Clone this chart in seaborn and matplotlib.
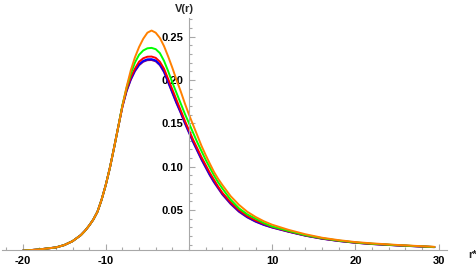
import matplotlib
matplotlib.use('Agg')
import matplotlib.pyplot as plt
import seaborn as sns
from matplotlib.ticker import MultipleLocator, FixedLocator

sns.set_style('white')
plt.rcParams['font.family'] = ['Liberation Sans', 'DejaVu Sans']

# tortoise coordinate r*
r_star = [-20, -18, -16, -15, -14, -13, -12.5, -12, -11.5, -11, -10.5, -10,
          -9.5, -9, -8.5, -8, -7.5, -7, -6.5, -6, -5.5, -5, -4.5, -4, -3.5,
          -3, -2.5, -2, -1.5, -1, -0.5, 0, 0.5, 1, 1.5, 2, 2.5, 3, 3.5, 4,
          5, 6, 7, 8, 9, 10, 12, 14, 16, 18, 20, 22, 25, 27, 29.5]

# left flank (r* = -20 ... -8.5), the same for all curves
v_left = [0.003, 0.0045, 0.0068, 0.0095, 0.014, 0.021, 0.026, 0.032, 0.039,
          0.048, 0.062, 0.079, 0.099, 0.122, 0.146]

# r* = -8 ... 29.5
v_purple = [0.169, 0.187, 0.200, 0.210, 0.217, 0.221, 0.2228, 0.223, 0.2215,
            0.217, 0.209, 0.197, 0.185, 0.173, 0.162, 0.150, 0.139, 0.128,
            0.118, 0.108, 0.099, 0.090, 0.082, 0.075, 0.068,
            0.057, 0.048, 0.0415, 0.0365, 0.0327, 0.0297,
            0.0248, 0.0203, 0.0168, 0.0142, 0.0122, 0.0107, 0.0091, 0.0082, 0.0071]
v_blue = [0.170, 0.188, 0.201, 0.211, 0.218, 0.222, 0.2238, 0.224, 0.2225,
          0.218, 0.210, 0.198, 0.186, 0.174, 0.163, 0.151, 0.140, 0.129,
          0.119, 0.109, 0.100, 0.091, 0.083, 0.076, 0.069,
          0.058, 0.049, 0.042, 0.037, 0.033, 0.030,
          0.025, 0.0205, 0.017, 0.0143, 0.0123, 0.0108, 0.0092, 0.0083, 0.0072]
v_red = [0.170, 0.189, 0.203, 0.213, 0.221, 0.225, 0.2268, 0.227, 0.2255,
         0.221, 0.213, 0.201, 0.189, 0.177, 0.165, 0.153, 0.142, 0.131,
         0.121, 0.111, 0.102, 0.093, 0.085, 0.077, 0.070,
         0.059, 0.050, 0.043, 0.038, 0.034, 0.0305,
         0.0253, 0.0207, 0.0172, 0.0145, 0.0124, 0.0109, 0.0093, 0.0084, 0.0073]
v_green = [0.171, 0.191, 0.207, 0.220, 0.229, 0.234, 0.2365, 0.237, 0.2355,
           0.231, 0.222, 0.210, 0.197, 0.185, 0.173, 0.161, 0.150, 0.139,
           0.128, 0.118, 0.108, 0.099, 0.090, 0.082, 0.075,
           0.062, 0.052, 0.045, 0.040, 0.035, 0.031,
           0.0258, 0.021, 0.0175, 0.0147, 0.0126, 0.0111, 0.0094, 0.0085, 0.0073]
v_orange = [0.170, 0.192, 0.211, 0.226, 0.238, 0.2475, 0.2545, 0.257, 0.2545,
            0.2485, 0.239, 0.227, 0.214, 0.200, 0.187, 0.173, 0.160, 0.148,
            0.136, 0.124, 0.1135, 0.1035, 0.094, 0.086, 0.079,
            0.066, 0.056, 0.048, 0.042, 0.037, 0.033,
            0.027, 0.022, 0.018, 0.0152, 0.013, 0.0115, 0.0097, 0.0087, 0.0075]

series = [(v_purple, (0.5, 0, 0.5)), (v_blue, (0, 0, 1)), (v_red, (1, 0, 0)),
          (v_green, (0, 1, 0)), (v_orange, (1, 0.5, 0))]

W, H = 476, 269
fig = plt.figure(figsize=(W / 100, H / 100), dpi=100)
# axes box in pixels: x from 1.8 to 446.9, y from 18.4 to 250.3
ax = fig.add_axes([1.8 / W, (H - 250.3) / H, (446.9 - 1.8) / W, (250.3 - 18.4) / H])

for vals, col in series:
    sns.lineplot(x=r_star, y=v_left + vals, color=col, lw=1.4, ax=ax, sort=False)

ax.set_xlim(-22.5, 31)
ax.set_ylim(0.0035, 0.271)

axis_col = '#a8a8a8'
ax.spines['top'].set_visible(False)
ax.spines['right'].set_visible(False)
ax.spines['left'].set_position(('data', 0))
for s in ('left', 'bottom'):
    ax.spines[s].set_color(axis_col)
    ax.spines[s].set_linewidth(0.8)

ax.xaxis.set_major_locator(FixedLocator([-20, -10, 10, 20, 30]))
ax.xaxis.set_minor_locator(MultipleLocator(2))
ax.yaxis.set_major_locator(FixedLocator([0.05, 0.10, 0.15, 0.20, 0.25]))
ax.yaxis.set_minor_locator(MultipleLocator(0.01))
ax.set_yticklabels(['0.05', '0.10', '0.15', '0.20', '0.25'])
ax.set_xticklabels(['-20', '-10', '10', '20', '30'])
ax.tick_params(which='both', direction='in', color=axis_col, width=0.8,
               labelsize=8, labelcolor='black')
ax.tick_params(which='major', length=4)
ax.tick_params(which='minor', length=2.5)
ax.tick_params(axis='x', pad=4)
ax.tick_params(axis='y', pad=4)
ax.xaxis.set_ticks_position('bottom')
ax.yaxis.set_ticks_position('left')
for lab in ax.get_xticklabels() + ax.get_yticklabels():
    lab.set_fontweight('bold')

ax.set_xlabel('')
ax.set_ylabel('')
fig.text(184 / W, 1 - 9 / H, 'V(r)', ha='center', va='center', fontsize=8,
         fontweight='bold')
fig.text(473 / W, 1 - 255 / H, 'r*', ha='center', va='center', fontsize=8,
         fontweight='bold')

fig.savefig('out.png', dpi=100)
